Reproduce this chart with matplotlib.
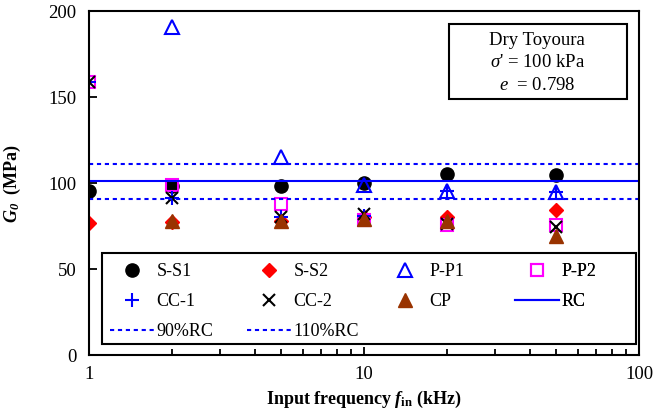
import matplotlib
matplotlib.use("Agg")
import matplotlib.pyplot as plt
from matplotlib.patches import Rectangle
from matplotlib.ticker import FixedLocator, NullFormatter, FixedFormatter

plt.rcParams['font.family'] = ['Liberation Serif', 'DejaVu Serif']
plt.rcParams['mathtext.fontset'] = 'custom'
plt.rcParams['mathtext.rm'] = 'Liberation Serif'
plt.rcParams['mathtext.it'] = 'Liberation Serif:italic'
plt.rcParams['mathtext.bf'] = 'Liberation Serif:bold'
plt.rcParams['mathtext.bfit'] = 'Liberation Serif:bold:italic'

# data
freq = [1, 2, 5, 10, 20, 50]
freq_b = [2, 5, 10, 20, 50]
ss1 = [95.2, 98, 98, 100, 105.4, 104.6]
ss2 = [77, 77.5, 78, 80, 80.5, 84.2]
pp1 = [190.6, 115.2, 99, 95.2, 94.7]
pp2 = [158.7, 98.7, 87.9, 78.3, 75.8, 75.8]
cc1 = [158.7, 91, 80, 81, 95.5, 95]
cc2 = [158.7, 91, 80.5, 82, 76, 74.4]
cp = [77.7, 78, 79.3, 77.7, 69]
rc = 101.0

fig = plt.figure(figsize=(6.67, 4.15), dpi=100)
ax = fig.add_axes([89/667, 1 - 355/415, 550/667, 344/415])

dots = (0, (2, 1.8))
h_ss1, = ax.plot(freq, ss1, 'o', color='black', ms=9.5, ls='none', label='S-S1')
h_ss2, = ax.plot(freq, ss2, 'D', color='red', ms=7.5, ls='none', label='S-S2')
h_pp1, = ax.plot(freq_b, pp1, '^', mfc='none', mec='blue', mew=1.5, ms=10, ls='none', label='P-P1')
h_pp2, = ax.plot(freq, pp2, 's', mfc='none', mec='magenta', mew=1.5, ms=9, ls='none', label='P-P2')
h_cc1, = ax.plot(freq, cc1, '+', color='blue', mew=1.5, ms=10, ls='none', label='CC-1')
h_cc2, = ax.plot(freq, cc2, 'x', color='black', mew=1.5, ms=9, ls='none', label='CC-2')
h_cp, = ax.plot(freq_b, cp, '^', color='#993300', ms=10, ls='none', label='CP')
h_rc = ax.axhline(rc, color='blue', lw=1.5, label='RC')
h_90 = ax.axhline(rc * 0.9, color='blue', lw=1.5, ls=dots, label='90%RC')
h_110 = ax.axhline(rc * 1.1, color='blue', lw=1.5, ls=dots, label='110%RC')

ax.set_xscale('log')
ax.set_xlim(1, 100)
ax.set_ylim(0, 200)
ax.set_yticks([0, 50, 100, 150, 200])
ax.xaxis.set_major_locator(FixedLocator([1, 10, 100]))
ax.xaxis.set_major_formatter(FixedFormatter(['1', '10', '100']))
ax.xaxis.set_minor_formatter(NullFormatter())
ax.tick_params(axis='both', which='both', direction='in', labelsize=13.5, width=1.3)
ax.tick_params(axis='both', which='major', length=6)
ax.tick_params(axis='x', which='minor', length=4)
ax.tick_params(axis='x', pad=8)
ax.tick_params(axis='y', pad=9)
for s in ax.spines.values():
    s.set_linewidth(1.5)

ax.set_xlabel(r'$\mathbf{Input\ frequency}\ \mathbfit{f}_{\mathbf{in}}\ \mathbf{(kHz)}$',
              fontsize=13, labelpad=4)
ax.set_ylabel(r'$\mathbfit{G_0}$  $\mathbf{(MPa)}$', fontsize=13, labelpad=18)

# info box
ax.add_patch(Rectangle((0.655, 0.744), 0.323, 0.218, transform=ax.transAxes,
                       fc='white', ec='black', lw=1.5, zorder=5))
ax.text(0.815, 0.849, "Dry Toyoura\n$\\sigma$' = 100 kPa\n$e$  = 0.798",
        transform=ax.transAxes, ha='center', va='center', fontsize=13.5,
        linespacing=1.45, zorder=6)

# legend frame drawn separately, one legend per column inside it
ax.add_patch(Rectangle((13/550, 11/344), 534/550, 91/344, transform=ax.transAxes,
                       fc='white', ec='black', lw=1.5, zorder=5))
columns = [[h_ss1, h_cc1, h_90], [h_ss2, h_cc2, h_110], [h_pp1, h_cp], [h_pp2, h_rc]]
col_x = [21, 158, 294, 426]
for hs, cx in zip(columns, col_x):
    leg = ax.legend(handles=hs, loc='upper left', bbox_to_anchor=(cx/550, 92/344),
                    fontsize=13, frameon=False, handlelength=2.45, handletextpad=0.12,
                    borderaxespad=0, borderpad=0, labelspacing=0.72, numpoints=1)
    leg.set_zorder(6)
    ax.add_artist(leg)

fig.savefig('out.png', dpi=100)
